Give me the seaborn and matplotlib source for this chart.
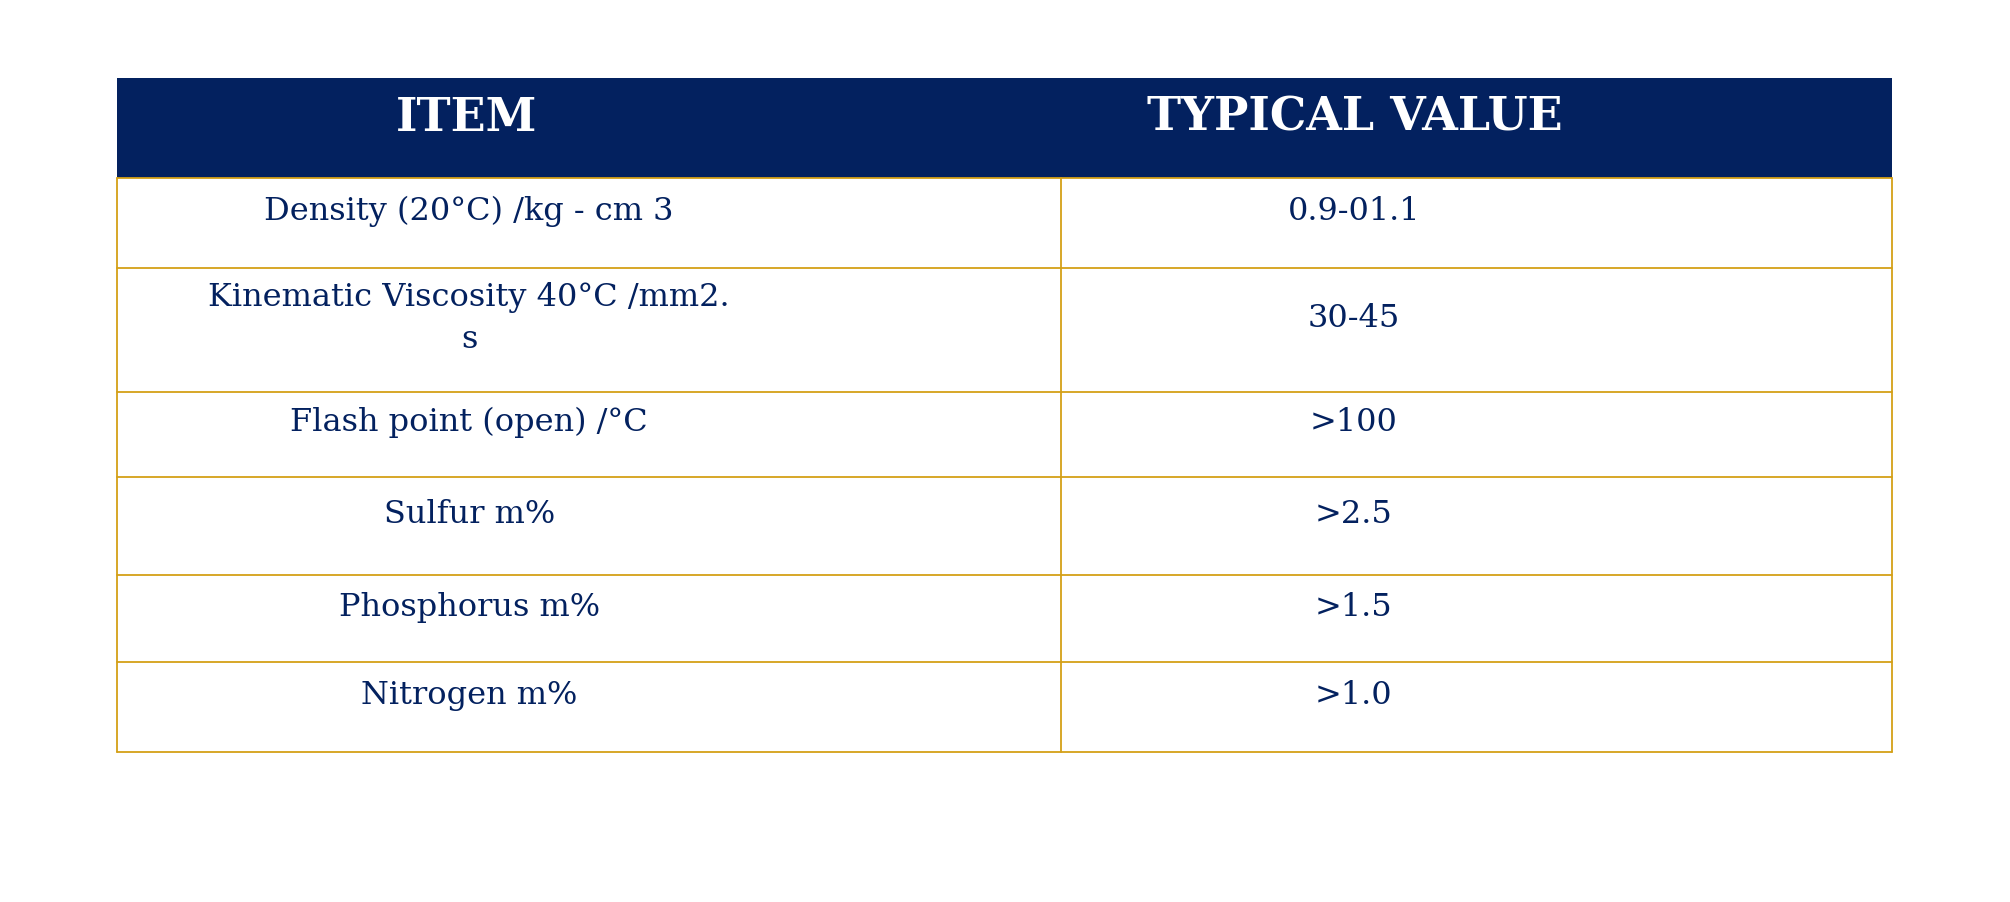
import matplotlib
matplotlib.use("Agg")
import matplotlib.pyplot as plt
import seaborn as sns

sns.set_theme(style="white")

headers = ["ITEM", "TYPICAL VALUE"]
items = ["Density (20°C) /kg - cm 3", "Kinematic Viscosity 40°C /mm2.\ns",
         "Flash point (open) /°C", "Sulfur m%", "Phosphorus m%", "Nitrogen m%"]
values = ["0.9-01.1", "30-45", ">100", ">2.5", ">1.5", ">1.0"]

NAVY = "#03215f"
GOLD = "#d4a017"
W, H = 1568, 705
fig = plt.figure(figsize=(20.10, 9.03), dpi=100)
ax = fig.add_axes([0, 0, 1, 1])
ax.set_xlim(0, W); ax.set_ylim(H, 0); ax.axis("off")

left, mid, right = 91, 828, 1476
head_top, head_bot = 62, 140
row_edges = [140, 210, 307, 373, 450, 518, 588]

ax.add_patch(plt.Rectangle((left, head_top), right - left, head_bot - head_top,
                           color=NAVY, lw=0))
fam = "DejaVu Serif"
ax.text(364, 92, headers[0], ha="center", va="center", color="white",
        fontsize=33, fontweight="bold", family=fam)
ax.text(1057, 92, headers[1], ha="center", va="center", color="white",
        fontsize=33, fontweight="bold", family=fam)

for y in row_edges:
    ax.plot([left, right], [y, y], color=GOLD, lw=1.3)
ax.plot([left, left], [head_bot, row_edges[-1]], color=GOLD, lw=1.3)
ax.plot([right, right], [head_bot, row_edges[-1]], color=GOLD, lw=1.3)
ax.plot([mid, mid], [head_bot, row_edges[-1]], color=GOLD, lw=1.3)

for i, (it, v) in enumerate(zip(items, values)):
    top, bot = row_edges[i], row_edges[i + 1]
    yc = (top + bot) / 2 - 10
    ax.text(366, yc, it, ha="center", va="center", color=NAVY,
            fontsize=23, family=fam, linespacing=1.45)
    ax.text(1056, yc, v, ha="center", va="center", color=NAVY,
            fontsize=23, family=fam)

fig.savefig("out.png", dpi=100, facecolor="white")
